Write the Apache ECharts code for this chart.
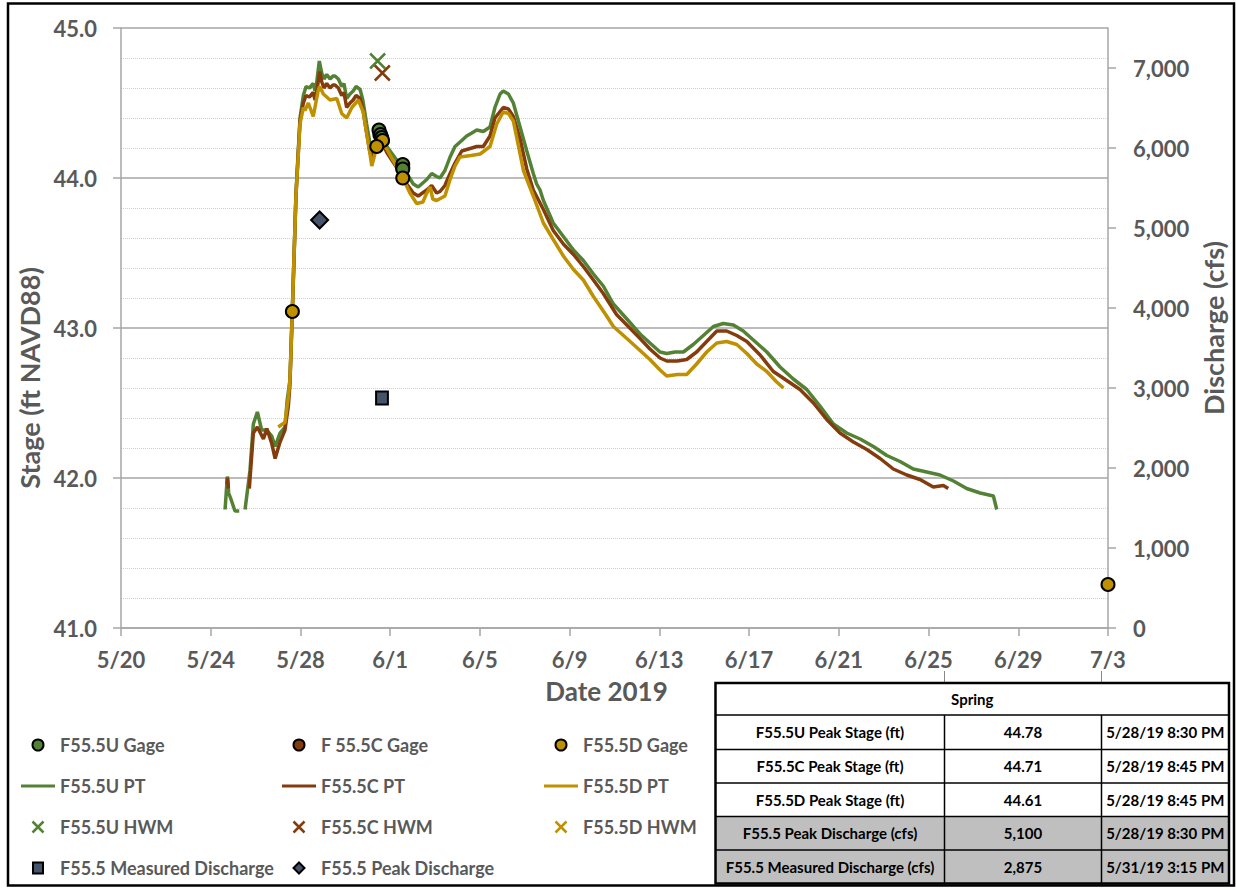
<!DOCTYPE html>
<html><head><meta charset="utf-8">
<script src="https://cdn.jsdelivr.net/npm/echarts@6/dist/echarts.min.js"></script>
<style>html,body{margin:0;padding:0;background:#fff}#c{width:1236px;height:888px}</style>
</head><body><div id="c"></div>
<script>
// ---- tick labels ----
const dateTickLabels = ['5/20','5/24','5/28','6/1','6/5','6/9','6/13','6/17','6/21','6/25','6/29','7/3'];
const stageTickLabels = ['41.0','42.0','43.0','44.0','45.0'];
const dischargeTickLabels = ['0','1,000','2,000','3,000','4,000','5,000','6,000','7,000'];

// ---- data: x = day of year 2019 (140 = 5/20) ----
const uPT = [[144.64,41.79],[144.74,42.01],[144.80,41.90],[144.90,41.86],[145.08,41.78],[145.27,41.78],[145.40,'-'],[145.53,41.79],[145.75,42.05],[145.90,42.36],[146.08,42.44],[146.27,42.32],[146.50,42.32],[146.72,42.28],[146.87,42.21],[147.09,42.30],[147.31,42.34],[147.41,42.52],[147.53,42.65],[147.68,43.32],[147.80,43.90],[147.98,44.40],[148.13,44.55],[148.25,44.61],[148.40,44.60],[148.57,44.63],[148.65,44.58],[148.72,44.63],[148.84,44.78],[148.95,44.70],[149.05,44.66],[149.17,44.69],[149.32,44.66],[149.45,44.68],[149.54,44.68],[149.69,44.66],[149.84,44.61],[149.94,44.63],[150.06,44.53],[150.21,44.56],[150.35,44.58],[150.48,44.61],[150.66,44.59],[150.78,44.52],[150.95,44.36],[151.10,44.23],[151.22,44.16],[151.40,44.28],[151.60,44.28],[151.85,44.21],[152.29,44.12],[152.74,44.03],[153.03,43.96],[153.25,43.94],[153.63,43.99],[153.85,44.03],[154.07,44.01],[154.22,44.00],[154.44,44.05],[154.67,44.14],[154.89,44.21],[155.19,44.25],[155.41,44.28],[155.64,44.30],[155.86,44.32],[156.15,44.31],[156.45,44.34],[156.67,44.47],[156.90,44.56],[157.04,44.58],[157.27,44.56],[157.49,44.50],[157.79,44.34],[158.09,44.18],[158.38,44.03],[158.53,43.96],[158.68,43.92],[158.83,43.85],[159.27,43.70],[159.72,43.61],[160.17,43.52],[160.61,43.45],[161.06,43.36],[161.50,43.28],[161.95,43.16],[162.55,43.06],[163.14,42.96],[163.58,42.90],[164.03,42.84],[164.33,42.83],[164.70,42.84],[165.07,42.84],[165.51,42.89],[165.96,42.95],[166.41,43.01],[166.85,43.03],[167.30,43.02],[167.74,42.98],[168.19,42.92],[168.79,42.84],[169.38,42.74],[169.97,42.66],[170.57,42.59],[171.16,42.48],[171.76,42.36],[172.35,42.30],[172.95,42.26],[173.54,42.21],[174.14,42.15],[174.73,42.11],[175.32,42.06],[175.92,42.04],[176.51,42.02],[177.11,41.98],[177.70,41.93],[178.30,41.90],[178.89,41.88],[179.04,41.79]];
const cPT = [[144.72,41.96],[144.75,42.00],[144.79,41.93],[145.20,'-'],[145.72,41.93],[145.90,42.30],[146.08,42.34],[146.35,42.26],[146.50,42.33],[146.72,42.23],[146.87,42.13],[147.09,42.24],[147.31,42.32],[147.46,42.48],[147.53,42.62],[147.68,43.30],[147.80,43.88],[147.98,44.38],[148.13,44.50],[148.25,44.55],[148.40,44.54],[148.57,44.57],[148.65,44.52],[148.72,44.57],[148.86,44.71],[148.95,44.64],[149.05,44.60],[149.17,44.63],[149.32,44.60],[149.45,44.62],[149.54,44.62],[149.69,44.60],[149.84,44.55],[149.94,44.57],[150.06,44.47],[150.21,44.50],[150.35,44.52],[150.48,44.55],[150.66,44.53],[150.78,44.46],[150.95,44.30],[151.10,44.17],[151.22,44.12],[151.40,44.24],[151.60,44.25],[151.85,44.17],[152.29,44.07],[152.74,43.96],[153.03,43.90],[153.25,43.88],[153.63,43.92],[153.85,43.95],[154.07,43.90],[154.22,43.91],[154.44,43.95],[154.67,44.03],[154.89,44.10],[155.19,44.18],[155.41,44.19],[155.64,44.20],[155.86,44.21],[156.15,44.21],[156.45,44.28],[156.67,44.40],[157.04,44.47],[157.27,44.46],[157.49,44.41],[157.79,44.26],[158.09,44.06],[158.38,43.92],[158.83,43.79],[159.27,43.65],[159.72,43.56],[160.17,43.49],[160.61,43.41],[161.06,43.32],[161.50,43.23],[162.09,43.09],[162.55,43.02],[163.14,42.93],[163.58,42.86],[164.03,42.80],[164.33,42.78],[164.80,42.78],[165.22,42.79],[165.66,42.84],[166.11,42.91],[166.56,42.98],[167.00,42.98],[167.45,42.95],[167.90,42.91],[168.49,42.82],[169.08,42.71],[169.68,42.65],[170.27,42.59],[170.87,42.50],[171.46,42.39],[172.05,42.30],[172.65,42.24],[173.25,42.19],[173.84,42.13],[174.43,42.06],[175.03,42.02],[175.62,41.99],[176.21,41.94],[176.66,41.95],[176.88,41.93]];
const dPT = [[147.01,42.34],[147.20,42.36],[147.31,42.37],[147.46,42.54],[147.53,42.65],[147.64,43.11],[147.68,43.32],[147.80,43.88],[147.98,44.36],[148.13,44.47],[148.20,44.45],[148.35,44.50],[148.57,44.41],[148.80,44.59],[148.86,44.61],[149.02,44.56],[149.32,44.52],[149.62,44.53],[149.84,44.43],[150.06,44.40],[150.29,44.47],[150.58,44.52],[150.80,44.44],[151.10,44.16],[151.18,44.08],[151.40,44.21],[151.68,44.24],[152.08,44.13],[152.56,44.00],[152.88,43.90],[153.18,43.83],[153.46,43.84],[153.60,43.89],[153.78,43.94],[153.90,43.86],[154.07,43.85],[154.44,43.88],[154.67,43.99],[154.89,44.08],[155.11,44.14],[155.60,44.15],[156.01,44.16],[156.45,44.21],[156.75,44.36],[157.04,44.44],[157.27,44.43],[157.49,44.38],[157.94,44.05],[158.38,43.88],[158.83,43.70],[159.27,43.59],[159.72,43.48],[160.17,43.39],[160.61,43.32],[161.06,43.21],[161.65,43.08],[161.95,43.01],[162.55,42.93],[163.14,42.85],[163.58,42.79],[164.03,42.72],[164.33,42.68],[164.80,42.69],[165.22,42.69],[165.66,42.76],[166.11,42.84],[166.56,42.90],[167.00,42.91],[167.45,42.89],[167.90,42.83],[168.34,42.76],[168.79,42.71],[169.23,42.64],[169.53,42.60]];
const gageU = [[151.50,44.32],[151.57,44.29],[151.62,44.27],[152.56,44.09],[152.56,44.06]];
const gageC = [[151.54,44.29],[152.56,44.07]];
const gageD = [[147.64,43.11],[151.66,44.25],[151.40,44.21],[152.56,44.00],[184.00,41.29]];
const hwmU = [[151.44,44.78]];
const hwmC = [[151.65,44.70]];
const hwmD = [];
const measuredQ = [[151.635,2875]];
const peakQ = [[148.854,5100]];

// ---- table ----
const tableTitle = 'Spring';
const tableRows = [
  ['F55.5U Peak Stage (ft)','44.78','5/28/19 8:30 PM'],
  ['F55.5C Peak Stage (ft)','44.71','5/28/19 8:45 PM'],
  ['F55.5D Peak Stage (ft)','44.61','5/28/19 8:45 PM'],
  ['F55.5 Peak Discharge (cfs)','5,100','5/28/19 8:30 PM'],
  ['F55.5 Measured Discharge (cfs)','2,875','5/31/19 3:15 PM']
];
const shadedRows = [3,4];

const GREEN='#548235', BROWN='#843C0C', GOLD='#BF9000', SLATE='#44546A';
const FONT='Lato, "Noto Sans", sans-serif';
const LBL='#595959';
const XPATH='path://M0,0L10,10M10,0L0,10';
const SQPATH='path://M0,0L10,0L10,11L0,11Z';
const DMPATH='path://M5,0L10,5L5,10L0,5Z';
const LINEICON='path://M0,0L34,0L34,3L0,3Z';

function lineS(name,data,color){
  return {name,type:'line',data,symbol:'none',showSymbol:false,connectNulls:false,
    lineStyle:{color,width:3.5},itemStyle:{color},z:2};
}
function scat(name,data,color,symbol,size,bw,bc,yi){
  return {name,type:'scatter',data,symbol,symbolSize:size,symbolKeepAspect:true,yAxisIndex:yi||0,
    itemStyle:{color,borderColor:bc,borderWidth:bw,opacity:1},z:4};
}

const tX=[715.5,944.5,1101.5,1229];
const tY=[683,715,749.5,783,816.5,850,883.5];
const graphic=[];
graphic.push({type:'rect',shape:{x:8,y:3.5,width:1226,height:882},style:{fill:'none',stroke:'#000',lineWidth:2.5},z:100});
shadedRows.forEach(r=>graphic.push({type:'rect',shape:{x:tX[0],y:tY[r+1],width:tX[3]-tX[0],height:tY[r+2]-tY[r+1]},style:{fill:'#bfbfbf'},z:50}));
for(let i=1;i<tY.length-1;i++) graphic.push({type:'line',shape:{x1:tX[0],y1:tY[i],x2:tX[3],y2:tY[i]},style:{stroke:'#000',lineWidth:1.5},z:51});
[tX[1],tX[2]].forEach(x=>{
  graphic.push({type:'line',shape:{x1:x,y1:tY[1],x2:x,y2:tY[6]},style:{stroke:'#000',lineWidth:1.5},z:51});
  graphic.push({type:'line',shape:{x1:x,y1:671,x2:x,y2:tY[0]},style:{stroke:'#888',lineWidth:1},z:51});
});
graphic.push({type:'rect',shape:{x:tX[0],y:tY[0],width:tX[3]-tX[0],height:tY[6]-tY[0]},style:{fill:'none',stroke:'#000',lineWidth:2.5},z:52});
graphic.push({type:'text',x:(tX[0]+tX[3])/2,y:(tY[0]+tY[1])/2,style:{text:tableTitle,font:'bold 15px '+FONT,fill:'#000',align:'center',verticalAlign:'middle'},z:53});
tableRows.forEach((row,r)=>row.forEach((cell,c)=>{
  graphic.push({type:'text',x:(tX[c]+tX[c+1])/2,y:(tY[r+1]+tY[r+2])/2,style:{text:cell,font:'bold 15px '+FONT,fill:'#000',align:'center',verticalAlign:'middle'},z:53});
}));

const legendText={fontFamily:FONT,fontWeight:'bold',fontSize:18,color:LBL,lineHeight:20};
function legendCol(left,items){
  return {orient:'vertical',left,top:730,itemWidth:34,itemHeight:11,itemGap:21,selectedMode:false,
    symbolKeepAspect:true,textStyle:legendText,data:items};
}
function li(name,icon,extra){ return Object.assign({name,icon},extra||{}); }
const xStyle=c=>({itemStyle:{borderColor:c,borderWidth:2.5,color:c}});

const option={
  animation:false,
  backgroundColor:'#fff',
  textStyle:{fontFamily:FONT},
  grid:{left:121,right:128,top:28,bottom:260,containLabel:false,outerBoundsMode:'none'},
  xAxis:{type:'value',min:140,max:184,interval:4,
    axisLine:{show:true,onZero:false,lineStyle:{color:'#a6a6a6',width:1.5}},
    axisTick:{show:true,length:8,lineStyle:{color:'#a6a6a6',width:1.5}},
    splitLine:{show:false},
    axisLabel:{margin:20,color:LBL,fontFamily:FONT,fontWeight:'bold',fontSize:22,
      formatter:v=>dateTickLabels[Math.round((v-140)/4)]||''},
    name:'Date 2019',nameLocation:'middle',nameGap:50,
    nameTextStyle:{color:LBL,fontFamily:FONT,fontWeight:'bold',fontSize:26,padding:[0,16,0,0]}
  },
  yAxis:[
    {type:'value',min:41,max:45,interval:1,position:'left',
      axisLine:{show:true,lineStyle:{color:'#a6a6a6',width:1.5}},
      axisTick:{show:true,length:8,lineStyle:{color:'#a6a6a6',width:1.5}},
      splitLine:{show:true,lineStyle:{color:'#a6a6a6',width:1.5}},
      minorTick:{show:false,splitNumber:5},
      minorSplitLine:{show:true,lineStyle:{color:'#cfcfcf',width:1,type:'dotted'}},
      axisLabel:{margin:24,color:LBL,fontFamily:FONT,fontWeight:'bold',fontSize:22,
        formatter:v=>stageTickLabels[Math.round(v-41)]||''},
      name:'Stage (ft NAVD88)',nameLocation:'middle',nameGap:72,
      nameTextStyle:{color:LBL,fontFamily:FONT,fontWeight:'bold',fontSize:27,padding:[0,100,0,0]}
    },
    {type:'value',min:0,max:7500,interval:1000,position:'right',
      axisLine:{show:true,lineStyle:{color:'#a6a6a6',width:1.5}},
      axisTick:{show:true,length:8,lineStyle:{color:'#a6a6a6',width:1.5}},
      splitLine:{show:false},
      axisLabel:{margin:25,color:LBL,fontFamily:FONT,fontWeight:'bold',fontSize:22,showMaxLabel:false,
        formatter:v=>(v%1000===0 ? (dischargeTickLabels[v/1000]||'') : '')},
      name:'Discharge (cfs)',nameLocation:'middle',nameGap:90,
      nameTextStyle:{color:LBL,fontFamily:FONT,fontWeight:'bold',fontSize:27}
    }
  ],
  legend:[
    legendCol(16,[li('F55.5U Gage','circle'),li('F55.5U PT',LINEICON),li('F55.5U HWM',XPATH,xStyle(GREEN)),li('F55.5 Measured Discharge',SQPATH)]),
    legendCol(277,[li('F 55.5C Gage','circle'),li('F55.5C PT',LINEICON),li('F55.5C HWM',XPATH,xStyle(BROWN)),li('F55.5 Peak Discharge',DMPATH)]),
    legendCol(539,[li('F55.5D Gage','circle'),li('F55.5D PT',LINEICON),li('F55.5D HWM',XPATH,xStyle(GOLD))])
  ],
  graphic,
  series:[
    lineS('F55.5U PT',uPT,GREEN),
    lineS('F55.5C PT',cPT,BROWN),
    lineS('F55.5D PT',dPT,GOLD),
    scat('F 55.5C Gage',gageC,BROWN,'circle',13,2,'#000'),
    scat('F55.5U Gage',gageU,GREEN,'circle',13,2,'#000'),
    scat('F55.5D Gage',gageD,GOLD,'circle',13,2,'#000'),
    scat('F55.5U HWM',hwmU,GREEN,XPATH,15,2.5,GREEN),
    scat('F55.5C HWM',hwmC,BROWN,XPATH,15,2.5,BROWN),
    scat('F55.5D HWM',hwmD,GOLD,XPATH,15,2.5,GOLD),
    scat('F55.5 Measured Discharge',measuredQ,SLATE,SQPATH,13,2,'#000',1),
    scat('F55.5 Peak Discharge',peakQ,SLATE,DMPATH,17,2,'#000',1)
  ]
};
const chart=echarts.init(document.getElementById('c'),null,{renderer:'svg'});
chart.setOption(option);
</script></body></html>
